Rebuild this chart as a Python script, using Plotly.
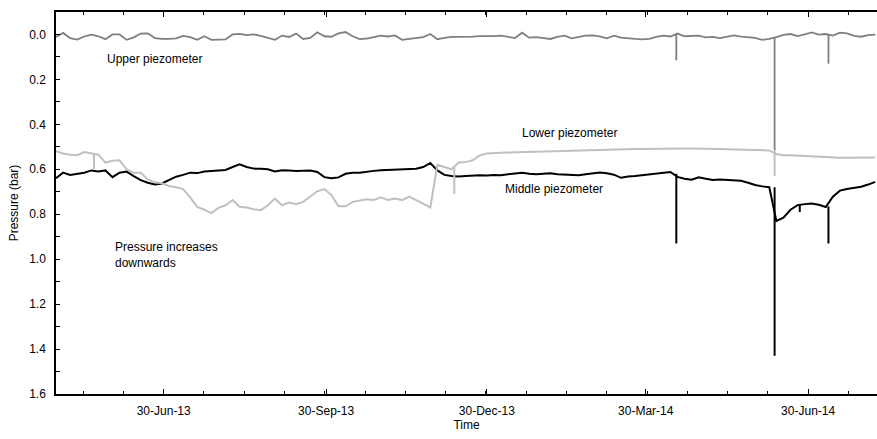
import pandas as pd
import plotly.graph_objects as go

# ---- data ----
start_date = "2013-04-30"
n_samples = 117            # one reading every 4 days
dates = pd.date_range(start_date, periods=n_samples, freq="4D")

upper = [0.011, -0.007, 0.016, 0.023, 0.009, 0.001, 0.008, 0.021, 0.0, 0.0,
         0.024, 0.013, -0.004, -0.005, 0.016, 0.02, 0.02, 0.017, 0.006, 0.012,
         0.024, 0.008, 0.024, 0.024, 0.022, 0.0, -0.003, 0.003, 0.0, 0.006,
         0.014, 0.024, 0.005, 0.011, -0.004, 0.02, 0.015, -0.01, 0.008, 0.01,
         -0.005, -0.011, 0.008, 0.021, 0.018, 0.013, 0.005, 0.009, 0.004, 0.024,
         0.02, 0.017, 0.012, -0.002, 0.021, 0.015, 0.011, 0.011, 0.011, 0.01,
         0.007, 0.008, 0.007, 0.005, 0.01, 0.016, -0.008, 0.014, 0.012, 0.017,
         0.02, 0.011, 0.005, 0.017, 0.01, 0.005, 0.004, 0.008, 0.017, 0.005,
         0.014, 0.018, 0.02, 0.022, 0.02, 0.011, 0.005, 0.009, -0.004, 0.008,
         0.007, 0.005, 0.013, 0.011, 0.016, 0.01, 0.004, 0.01, 0.011, 0.015,
         0.024, 0.02, 0.012, 0.002, -0.002, 0.007, 0.0, -0.009, 0.001, -0.002,
         0.005, -0.008, -0.005, 0.006, 0.01, 0.003, 0.001]

middle = [0.64, 0.615, 0.625, 0.62, 0.615, 0.605, 0.61, 0.605, 0.635, 0.615,
          0.61, 0.63, 0.648, 0.66, 0.668, 0.663, 0.648, 0.633, 0.625, 0.615,
          0.617, 0.61, 0.608, 0.605, 0.603, 0.59, 0.578, 0.59, 0.597, 0.598,
          0.6, 0.61, 0.604, 0.605, 0.608, 0.606, 0.605, 0.612, 0.635, 0.64,
          0.636, 0.62, 0.615, 0.615, 0.61, 0.607, 0.604, 0.603, 0.601, 0.602,
          0.6, 0.598, 0.59, 0.572, 0.605, 0.625, 0.63, 0.632, 0.63, 0.628,
          0.626, 0.628, 0.625, 0.626, 0.622, 0.62, 0.615, 0.62, 0.622, 0.62,
          0.618, 0.622, 0.624, 0.626, 0.627, 0.622, 0.618, 0.614, 0.618, 0.624,
          0.638, 0.632, 0.63, 0.626, 0.621, 0.618, 0.615, 0.612, 0.634, 0.642,
          0.646, 0.636, 0.642, 0.648, 0.645, 0.648, 0.65, 0.651, 0.66, 0.67,
          0.676, 0.68, 0.83, 0.815, 0.78, 0.76, 0.755, 0.752, 0.758, 0.768,
          0.722, 0.695, 0.688, 0.682, 0.678, 0.668, 0.656]

lower = [0.52, 0.53, 0.535, 0.537, 0.523, 0.53, 0.535, 0.57, 0.562, 0.56,
         0.6, 0.615, 0.615, 0.645, 0.658, 0.662, 0.674, 0.68, 0.688, 0.725,
         0.767, 0.78, 0.795, 0.772, 0.76, 0.737, 0.767, 0.77, 0.778, 0.782,
         0.76, 0.73, 0.76, 0.748, 0.755, 0.745, 0.722, 0.698, 0.688, 0.715,
         0.765, 0.765, 0.745, 0.74, 0.733, 0.737, 0.725, 0.737, 0.73, 0.737,
         0.722, 0.737, 0.752, 0.77, 0.58, 0.59, 0.6, 0.57, 0.568, 0.56,
         0.538, 0.53, 0.527, 0.526, 0.525, 0.524, 0.523, 0.522, 0.522, 0.521,
         0.52, 0.519, 0.519, 0.518, 0.518, 0.517, 0.516, 0.515, 0.514, 0.513,
         0.512, 0.511, 0.51, 0.51, 0.509, 0.508, 0.507, 0.507, 0.507, 0.507,
         0.507, 0.507, 0.508, 0.509, 0.51, 0.511, 0.512, 0.512, 0.513, 0.514,
         0.515, 0.516, 0.532, 0.537, 0.538, 0.54, 0.542, 0.544, 0.546, 0.547,
         0.548, 0.549, 0.549, 0.548, 0.548, 0.547, 0.547]

# short spikes (date, value before, peak value)
upper_spike_dates = ["2014-04-16 08:00", "2014-06-11 00:00", "2014-07-11 12:00"]
upper_spike_base = [0.0, 0.015, 0.0]
upper_spike_peak = [0.115, 0.515, 0.13]

middle_spike_dates = ["2014-04-16 08:00", "2014-06-11 00:00", "2014-06-25 06:00", "2014-07-11 12:00"]
middle_spike_base = [0.62, 0.68, 0.755, 0.765]
middle_spike_peak = [0.93, 1.43, 0.79, 0.93]

lower_spike_dates = ["2013-05-21 12:00", "2013-12-11 14:00", "2014-06-11 00:00"]
lower_spike_base = [0.53, 0.59, 0.515]
lower_spike_peak = [0.60, 0.71, 0.63]

major_ticks = ["2013-06-30", "2013-09-30", "2013-12-30", "2014-03-30", "2014-06-30"]
major_labels = ["30-Jun-13", "30-Sep-13", "30-Dec-13", "30-Mar-14", "30-Jun-14"]
x_range = ["2013-04-30", "2014-08-08"]

# ---- helpers ----
def spike_xy(ds, base, peak):
    xs, ys = [], []
    for d, b, p in zip(ds, base, peak):
        xs += [d, d, None]
        ys += [b, p, None]
    return xs, ys

# minor ticks: quarters between the major ticks
mt = [pd.Timestamp(t) for t in major_ticks]
step = (mt[-1] - mt[0]) / (len(mt) - 1)
minor_vals = []
for i in range(-3, 4 * (len(mt) - 1) + 4):
    minor_vals.append((mt[0] + step * i / 4).strftime("%Y-%m-%d %H:%M"))

FONT = "Arial, Liberation Sans, sans-serif"
C_UP, C_MID, C_LOW = "#7f7f7f", "#000000", "#c0c0c0"

fig = go.Figure()
fig.add_trace(go.Scatter(x=dates, y=middle, mode="lines", line=dict(color=C_MID, width=2)))
sx, sy = spike_xy(middle_spike_dates, middle_spike_base, middle_spike_peak)
fig.add_trace(go.Scatter(x=sx, y=sy, mode="lines", line=dict(color=C_MID, width=2)))
fig.add_trace(go.Scatter(x=dates, y=lower, mode="lines", line=dict(color=C_LOW, width=2)))
sx, sy = spike_xy(lower_spike_dates, lower_spike_base, lower_spike_peak)
fig.add_trace(go.Scatter(x=sx, y=sy, mode="lines", line=dict(color=C_LOW, width=2)))
fig.add_trace(go.Scatter(x=dates, y=upper, mode="lines", line=dict(color=C_UP, width=1.8)))
sx, sy = spike_xy(upper_spike_dates, upper_spike_base, upper_spike_peak)
fig.add_trace(go.Scatter(x=sx, y=sy, mode="lines", line=dict(color=C_UP, width=1.8)))

ann_font = dict(family=FONT, size=12, color="#000")
fig.add_annotation(x="2013-05-28", y=0.11, text="Upper piezometer", showarrow=False,
                   xanchor="left", yanchor="middle", font=ann_font)
fig.add_annotation(x="2014-01-18", y=0.438, text="Lower piezometer", showarrow=False,
                   xanchor="left", yanchor="middle", font=ann_font)
fig.add_annotation(x="2014-01-08", y=0.688, text="Middle piezometer", showarrow=False,
                   xanchor="left", yanchor="middle", font=ann_font)
fig.add_annotation(x="2013-06-01", y=0.98, text="Pressure increases<br>downwards", showarrow=False,
                   xanchor="left", yanchor="middle", align="left", font=ann_font)

fig.update_layout(
    width=877, height=439,
    margin=dict(l=56, r=0, t=12, b=45),
    paper_bgcolor="white", plot_bgcolor="white",
    showlegend=False,
    font=dict(family=FONT, size=12, color="#000"),
)
fig.update_xaxes(
    type="date", range=x_range,
    tickmode="array", tickvals=major_ticks, ticktext=major_labels,
    ticks="inside", ticklen=5, tickwidth=1.3, tickcolor="#000",
    showline=True, linecolor="#000", linewidth=1.5, mirror="ticks",
    showgrid=False, zeroline=False, ticklabelstandoff=5,
    tickfont=dict(family=FONT, size=12),
    minor=dict(tickmode="array", tickvals=minor_vals, ticks="inside", ticklen=3,
               tickwidth=1, tickcolor="#000", showgrid=False),
    title=dict(text="Time", font=dict(family=FONT, size=12), standoff=3),
)
fig.update_yaxes(
    range=[1.6, -0.1], tickmode="linear", tick0=0, dtick=0.2, tickformat=".1f",
    ticks="inside", ticklen=4, tickwidth=1.3, tickcolor="#000",
    showline=True, linecolor="#000", linewidth=1.5,
    showgrid=False, zeroline=False, ticklabelstandoff=6,
    tickfont=dict(family=FONT, size=12),
    minor=dict(tick0=0.1, dtick=0.1, ticks="inside", ticklen=4, tickwidth=1,
               tickcolor="#000", showgrid=False),
    title=dict(text="Pressure (bar)", font=dict(family=FONT, size=12), standoff=8),
)

fig.write_html("out.html")
